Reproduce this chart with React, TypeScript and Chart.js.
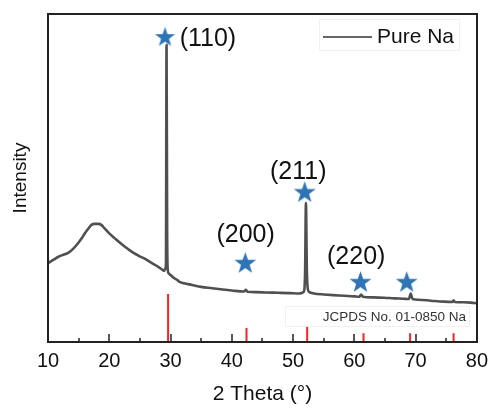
import { useEffect, useRef } from "react";
import { Chart, registerables } from "chart.js";

Chart.register(...registerables);

// XRD pattern of pure Na (2θ in degrees, intensity in arbitrary units)
const twoTheta = [
  10, 11, 11.7, 12.5, 13.3, 14.1, 14.9, 15.5, 16.0, 16.6, 17.1, 17.6, 18.2, 18.7, 19.2, 20.0, 20.9, 21.7,
  22.5, 23.3, 24.1, 24.9, 25.7, 26.5, 27.3, 28.0, 28.7, 28.95, 29.1, 29.25, 29.35, 29.45, 29.55, 29.7,
  30.0, 30.5, 31.1, 31.4, 32.2, 33.5, 35.0, 36.8, 38.5, 40.0, 42.0, 42.3, 42.6, 44.0, 45.5, 47.6, 49.5,
  51.0, 51.7, 51.95, 52.1, 52.25, 52.4, 52.6, 52.9, 53.4, 55.0, 56.5, 58.4, 60.0, 60.8, 61.1, 61.4,
  63.0, 64.9, 66.5, 68.0, 68.9, 69.2, 69.5, 70.5, 72.5, 74.6, 76.0, 76.2, 76.4, 77.8, 79.0, 80,
];
const intensity = [
  24.0, 25.2, 26.0, 26.6, 27.2, 28.4, 30.1, 31.6, 33.1, 34.6, 35.7, 36.0, 36.0, 35.7, 34.7, 33.1, 31.6, 30.3,
  29.1, 28.0, 27.0, 26.2, 25.5, 24.6, 23.7, 22.9, 22.0, 21.7, 22.2, 23.5, 90.5, 32.0, 22.0, 20.9,
  20.4, 19.6, 18.9, 18.4, 17.9, 17.4, 16.8, 16.4, 16.0, 15.7, 15.4, 15.9, 15.3, 15.2, 15.1, 15.0, 14.9,
  14.8, 15.2, 20.0, 42.4, 22.0, 16.2, 15.3, 15.0, 14.8, 14.5, 14.3, 14.1, 13.9, 13.8, 14.5, 13.8,
  13.6, 13.5, 13.3, 13.2, 13.1, 14.8, 13.1, 12.9, 12.6, 12.3, 12.2, 12.7, 12.2, 12.1, 12.0, 11.8,
];

// JCPDS No. 01-0850 reference lines
const refPeaks = [29.6, 42.4, 52.3, 61.5, 69.1, 76.2];
const refHeights = [14.6, 4.3, 4.9, 2.7, 2.7, 2.7];

// star markers
const starX = [29.1, 42.2, 51.9, 61.0, 68.55];
const starY = [93.1, 24.2, 45.8, 18.4, 18.4];

// Miller index labels
const hklLabels = ["(110)", "(200)", "(211)", "(220)"];
const hklX = [36.1, 42.25, 50.85, 60.3];
const hklY = [92.3, 32.6, 51.8, 25.9];

const seriesName = "Pure Na";
const refName = "JCPDS No. 01-0850 Na";
const xTitle = "2 Theta (°)";
const yTitle = "Intensity";
const xMin = 10;
const xMax = 80;

const FONT = "'Liberation Sans', Arial, sans-serif";

function makeStar(size: number, color: string): HTMLCanvasElement {
  const c = document.createElement("canvas");
  c.width = size;
  c.height = size;
  const ctx = c.getContext("2d")!;
  const cx = size / 2;
  const cy = size / 2 + size * 0.04;
  const ro = size / 2;
  const ri = ro * 0.4;
  ctx.beginPath();
  for (let i = 0; i < 10; i++) {
    const r = i % 2 === 0 ? ro : ri;
    const a = -Math.PI / 2 + (i * Math.PI) / 5;
    const px = cx + r * Math.cos(a);
    const py = cy + r * Math.sin(a);
    if (i === 0) ctx.moveTo(px, py);
    else ctx.lineTo(px, py);
  }
  ctx.closePath();
  ctx.fillStyle = color;
  ctx.fill();
  return c;
}

export default function App() {
  const ref = useRef<HTMLCanvasElement | null>(null);

  useEffect(() => {
    document.body.style.margin = "0";
    const canvas = ref.current;
    if (!canvas) return;

    const starBig = makeStar(23, "#2e75b6");
    const starSmall = makeStar(21, "#2e75b6");

    const decor = {
      id: "decor",
      afterDraw(chart: any) {
        const { ctx, chartArea } = chart;
        const xs = chart.scales.x;
        const ys = chart.scales.y;
        const L = Math.round(chartArea.left);
        const R = Math.round(chartArea.right);
        const T = Math.round(chartArea.top);
        const B = Math.round(chartArea.bottom);
        ctx.save();
        ctx.fillStyle = "#222";
        // inward ticks
        for (let v = xMin; v <= xMax; v += 5) {
          const px = Math.round(xs.getPixelForValue(v));
          const len = v % 10 === 0 ? 8 : 4;
          ctx.fillRect(px - 0.75, B - len, 1.5, len);
        }
        // frame
        ctx.fillRect(L - 1, T - 1, R - L + 2, 2);
        ctx.fillRect(L - 1, B - 1, R - L + 2, 2);
        ctx.fillRect(L - 1, T - 1, 2, B - T + 2);
        ctx.fillRect(R - 1, T - 1, 2, B - T + 2);

        // hkl labels
        ctx.fillStyle = "#111";
        ctx.font = `25px ${FONT}`;
        ctx.textAlign = "center";
        ctx.textBaseline = "middle";
        hklLabels.forEach((t, i) => {
          ctx.fillText(t, xs.getPixelForValue(hklX[i]), ys.getPixelForValue(hklY[i]));
        });

        // legend
        const lx = R - 154;
        const ly = T + 23;
        ctx.strokeStyle = "#f0f0f0";
        ctx.lineWidth = 1;
        ctx.strokeRect(lx - 3.5, T + 5.5, 140, 31);
        ctx.strokeStyle = "#333";
        ctx.lineWidth = 1.5;
        ctx.beginPath();
        ctx.moveTo(lx, ly);
        ctx.lineTo(lx + 49, ly);
        ctx.stroke();
        ctx.fillStyle = "#111";
        ctx.font = `21px ${FONT}`;
        ctx.textAlign = "left";
        ctx.fillText(seriesName, lx + 54, ly);

        // JCPDS reference label
        const bx = R - 192;
        const by = ys.getPixelForValue(11.0);
        ctx.strokeStyle = "#f0f0f0";
        ctx.lineWidth = 1;
        ctx.strokeRect(bx + 0.5, by + 0.5, 184, 20);
        ctx.fillStyle = "#333";
        ctx.font = `13.5px ${FONT}`;
        ctx.textAlign = "right";
        ctx.fillText(refName, R - 11, by + 11);
        ctx.restore();
      },
    };

    const chart = new Chart(canvas, {
      type: "line",
      data: {
        datasets: [
          {
            label: seriesName,
            data: twoTheta.map((x, i) => ({ x, y: intensity[i] })),
            borderColor: "#505050",
            borderWidth: 2.6,
            pointRadius: 0,
            cubicInterpolationMode: "monotone",
            order: 1,
          } as any,
          {
            label: refName,
            data: refPeaks.flatMap((p, i) => [
              { x: p, y: 0 },
              { x: p, y: refHeights[i] },
              { x: p, y: null },
            ]),
            borderColor: "#ff2020",
            borderWidth: 2,
            pointRadius: 0,
            spanGaps: false,
            order: 2,
          } as any,
          {
            label: "markers",
            data: starX.map((x, i) => ({ x, y: starY[i] })),
            showLine: false,
            pointStyle: starX.map((_, i) => (i === 0 ? starSmall : starBig)),
            pointRadius: 10,
            order: 0,
          } as any,
        ],
      },
      options: {
        responsive: false,
        animation: false,
        layout: { padding: { top: 14, right: 15, left: 0, bottom: 0 } },
        plugins: { legend: { display: false }, tooltip: { enabled: false } },
        scales: {
          x: {
            type: "linear",
            min: xMin,
            max: xMax,
            offset: false,
            grid: { display: false, drawTicks: false },
            border: { display: false },
            ticks: {
              stepSize: 10,
              maxRotation: 0,
              padding: 7,
              color: "#111",
              font: { family: FONT, size: 20 },
            },
            title: {
              display: true,
              text: xTitle,
              color: "#111",
              font: { family: FONT, size: 21 },
              padding: { top: 0, bottom: 1.5 },
            },
            afterFit: (s: any) => {
              s.height = 66;
            },
          },
          y: {
            type: "linear",
            min: 0,
            max: 100,
            grid: { display: false, drawTicks: false },
            border: { display: false },
            ticks: { display: false },
            title: {
              display: true,
              text: yTitle,
              color: "#111",
              font: { family: FONT, size: 19 },
              padding: { top: 9, bottom: 0 },
            },
            afterFit: (s: any) => {
              s.width = 48;
            },
          },
        },
      } as any,
      plugins: [decor],
    });

    return () => chart.destroy();
  }, []);

  return (
    <div style={{ position: "absolute", left: 0, top: 0, width: 495, height: 408, background: "#fff" }}>
      <canvas ref={ref} width={495} height={408} style={{ display: "block" }} />
    </div>
  );
}
